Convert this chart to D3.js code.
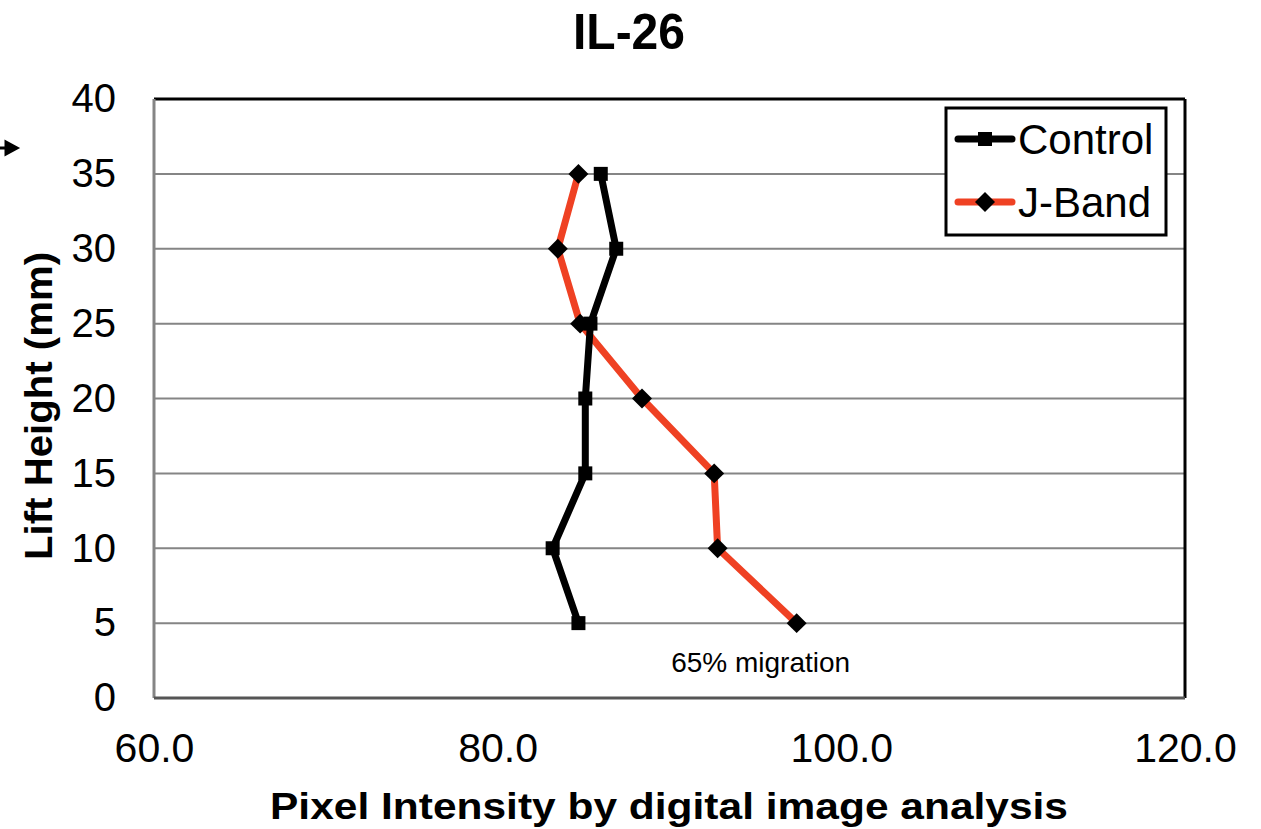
<!DOCTYPE html>
<html>
<head>
<meta charset="utf-8">
<script src="https://cdn.jsdelivr.net/npm/d3@7"></script>
<style>
  body { margin: 0; background: #fff; }
  svg text { font-family: "Liberation Sans", Arial, sans-serif; }
</style>
</head>
<body>
<div id="chart"></div>
<script>
// Valeurs
const heights = [35, 30, 25, 20, 15, 10, 5];
const controlValues = [86.0, 86.9, 85.4, 85.1, 85.1, 83.2, 84.7];
const jBandValues = [84.7, 83.5, 84.8, 88.4, 92.6, 92.8, 97.4];
const xTicks = [60, 80, 100, 120];
const yTicks = [0, 5, 10, 15, 20, 25, 30, 35, 40];

const W = 1261, H = 829;
const margin = { top: 99, right: 76, bottom: 131, left: 154 };
const width = W - margin.left - margin.right,
    height = H - margin.top - margin.bottom;

const svg = d3.select("#chart")
    .append("svg")
    .attr("width", W)
    .attr("height", H);

const g = svg.append("g")
    .attr("transform", `translate(${margin.left},${margin.top})`);

const x = d3.scaleLinear().domain([60, 120]).range([0, width]);
const y = d3.scaleLinear().domain([0, 40]).range([height, 0]);

// Lignes de grille
g.selectAll(".grid")
    .data(yTicks.filter(d => d > 0 && d < 40))
    .join("line")
    .attr("x1", 0).attr("x2", width)
    .attr("y1", d => y(d)).attr("y2", d => y(d))
    .attr("stroke", "#858585")
    .attr("stroke-width", 2);

// Cadre
g.append("line").attr("x1", 0).attr("x2", width).attr("y1", 0).attr("y2", 0)
    .attr("stroke", "#000").attr("stroke-width", 3);
g.append("line").attr("x1", width).attr("x2", width).attr("y1", 0).attr("y2", height)
    .attr("stroke", "#000").attr("stroke-width", 3);
g.append("line").attr("x1", 0).attr("x2", 0).attr("y1", 0).attr("y2", height)
    .attr("stroke", "#858585").attr("stroke-width", 3);
g.append("line").attr("x1", 0).attr("x2", width).attr("y1", height).attr("y2", height)
    .attr("stroke", "#555").attr("stroke-width", 3);

// Axes
const yAxis = g.append("g")
    .call(d3.axisLeft(y).tickValues(yTicks).tickSize(0).tickPadding(38));
yAxis.select(".domain").remove();
yAxis.selectAll("text").attr("font-size", 40).attr("fill", "#000")
    .attr("font-family", "Liberation Sans, Arial, sans-serif");

const xAxis = g.append("g")
    .attr("transform", `translate(0,${height})`)
    .call(d3.axisBottom(x).tickValues(xTicks).tickFormat(d3.format(".1f")).tickSize(0).tickPadding(35));
xAxis.select(".domain").remove();
xAxis.selectAll("text").attr("font-size", 41).attr("fill", "#000")
    .attr("font-family", "Liberation Sans, Arial, sans-serif");

// Séries
const controlData = heights.map((h, i) => ({ h, v: controlValues[i] }));
const jBandData = heights.map((h, i) => ({ h, v: jBandValues[i] }));

const line = d3.line().x(d => x(d.v)).y(d => y(d.h));

g.append("path")
    .datum(jBandData)
    .attr("fill", "none")
    .attr("stroke", "#ef4123")
    .attr("stroke-width", 7)
    .attr("stroke-linejoin", "round")
    .attr("d", line);

g.append("path")
    .datum(controlData)
    .attr("fill", "none")
    .attr("stroke", "#000")
    .attr("stroke-width", 7)
    .attr("stroke-linejoin", "round")
    .attr("d", line);

g.selectAll(".sq")
    .data(controlData)
    .join("rect")
    .attr("x", d => x(d.v) - 7).attr("y", d => y(d.h) - 7)
    .attr("width", 14).attr("height", 14)
    .attr("fill", "#000");

g.selectAll(".dm")
    .data(jBandData)
    .join("path")
    .attr("transform", d => `translate(${x(d.v)},${y(d.h)}) rotate(45)`)
    .attr("d", d3.symbol().type(d3.symbolSquare).size(200))
    .attr("fill", "#000");

// Annotation
g.append("text")
    .attr("x", x(97.4) - 36).attr("y", y(5) + 49)
    .attr("text-anchor", "middle")
    .attr("font-size", 28)
    .text("65% migration");

// Légende
const leg = svg.append("g").attr("transform", "translate(946,108)");
leg.append("rect")
    .attr("width", 220).attr("height", 127)
    .attr("fill", "#fff").attr("stroke", "#000").attr("stroke-width", 3);
const legItems = [
    { name: "Control", color: "#000", shape: "square" },
    { name: "J-Band", color: "#ef4123", shape: "diamond" }
];
legItems.forEach((it, i) => {
    const cy = 31 + i * 63;
    const row = leg.append("g").attr("transform", `translate(0,${cy})`);
    row.append("line").attr("x1", 12).attr("x2", 66).attr("y1", 0).attr("y2", 0)
        .attr("stroke", it.color).attr("stroke-width", 7).attr("stroke-linecap", "round");
    if (it.shape === "square") {
        row.append("rect").attr("x", 32).attr("y", -7).attr("width", 14).attr("height", 14).attr("fill", "#000");
    } else {
        row.append("path").attr("transform", "translate(39,0) rotate(45)")
            .attr("d", d3.symbol().type(d3.symbolSquare).size(200)).attr("fill", "#000");
    }
    row.append("text").attr("x", 72).attr("y", 15)
        .attr("font-size", 42).text(it.name);
});

// Titres
svg.append("text")
    .attr("x", 629).attr("y", 49)
    .attr("text-anchor", "middle")
    .attr("font-size", 50).attr("font-weight", "bold")
    .attr("textLength", 112).attr("lengthAdjust", "spacingAndGlyphs")
    .text("IL-26");

svg.append("text")
    .attr("transform", "translate(52,406) rotate(-90)")
    .attr("text-anchor", "middle")
    .attr("font-family", "DejaVu Sans, sans-serif")
    .attr("font-size", 38).attr("font-weight", "bold")
    .attr("textLength", 308).attr("lengthAdjust", "spacingAndGlyphs")
    .text("Lift Height (mm)");

svg.append("text")
    .attr("x", 669).attr("y", 819)
    .attr("text-anchor", "middle")
    .attr("font-family", "DejaVu Sans, sans-serif")
    .attr("font-size", 36).attr("font-weight", "bold")
    .attr("textLength", 798).attr("lengthAdjust", "spacingAndGlyphs")
    .text("Pixel Intensity by digital image analysis");

// Flèche coupée à gauche
svg.append("path")
    .attr("d", "M0,148 L8,148 M6,142 L17,148 L6,154 Z")
    .attr("stroke", "#000").attr("stroke-width", 3).attr("fill", "#000");
</script>
</body>
</html>
